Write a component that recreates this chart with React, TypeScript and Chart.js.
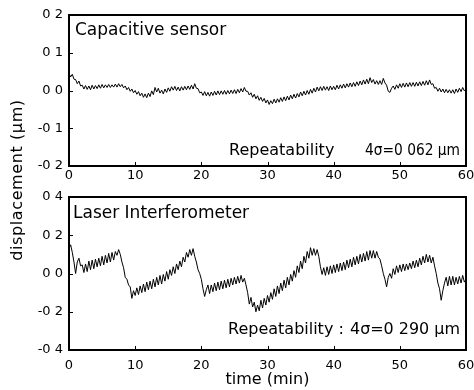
import React, { useEffect, useRef } from "react";
import { Chart, registerables } from "chart.js";

Chart.register(...registerables);

const sampleStepMin = 0.25;
const xTickValues = [0, 10, 20, 30, 40, 50, 60];
const capTickLabels = ["-0 2", "-0 1", "0 0", "0 1", "0 2"];
const laserTickLabels = ["-0 4", "-0 2", "0 0", "0 2", "0 4"];

// Capacitive sensor displacement (µm), one value every 0.25 min
const capacitiveValues = [
  0.045, 0.036, 0.043, 0.030,
  0.029, 0.018, 0.025, 0.012,
  0.014, 0.004, 0.013, 0.003,
  0.012, 0.002, 0.014, 0.004,
  0.013, 0.005, 0.015, 0.006,
  0.016, 0.007, 0.015, 0.008,
  0.016, 0.008, 0.015, 0.009,
  0.017, 0.009, 0.018, 0.010,
  0.016, 0.007, 0.012, 0.002,
  0.008, -0.002, 0.004, -0.006,
  0.000, -0.010, -0.003, -0.014,
  -0.007, -0.018, -0.009, -0.019,
  -0.007, -0.016, -0.001, -0.011,
  0.008, -0.004, 0.006, -0.007,
  0.001, -0.009, 0.004, -0.005,
  0.007, -0.002, 0.010, 0.001,
  0.011, 0.000, 0.009, -0.001,
  0.010, 0.001, 0.011, 0.002,
  0.012, 0.003, 0.014, 0.004,
  0.018, 0.006, 0.005, -0.006,
  -0.004, -0.013, -0.003, -0.014,
  -0.005, -0.015, -0.004, -0.013,
  -0.002, -0.012, -0.001, -0.011,
  -0.001, -0.010, 0.000, -0.010,
  0.000, -0.009, 0.001, -0.008,
  0.002, -0.008, 0.003, -0.006,
  0.005, -0.004, 0.008, -0.002,
  -0.002, -0.012, -0.006, -0.018,
  -0.010, -0.022, -0.014, -0.026,
  -0.018, -0.029, -0.021, -0.033,
  -0.025, -0.037, -0.027, -0.035,
  -0.023, -0.033, -0.022, -0.031,
  -0.019, -0.029, -0.017, -0.027,
  -0.015, -0.025, -0.012, -0.022,
  -0.010, -0.020, -0.008, -0.017,
  -0.004, -0.014, -0.002, -0.012,
  0.000, -0.010, 0.003, -0.007,
  0.006, -0.004, 0.009, -0.001,
  0.010, 0.000, 0.011, 0.001,
  0.010, 0.000, 0.012, 0.002,
  0.011, 0.002, 0.014, 0.004,
  0.015, 0.006, 0.017, 0.007,
  0.018, 0.009, 0.020, 0.010,
  0.021, 0.011, 0.023, 0.013,
  0.025, 0.015, 0.028, 0.017,
  0.030, 0.018, 0.034, 0.021,
  0.029, 0.017, 0.026, 0.016,
  0.026, 0.016, 0.032, 0.020,
  0.014, -0.002, -0.005, 0.006,
  0.012, 0.003, 0.015, 0.006,
  0.018, 0.008, 0.019, 0.009,
  0.020, 0.010, 0.021, 0.011,
  0.021, 0.011, 0.022, 0.012,
  0.023, 0.013, 0.024, 0.014,
  0.026, 0.015, 0.028, 0.016,
  0.018, 0.006, 0.008, -0.002,
  0.006, -0.004, 0.004, -0.006,
  0.003, -0.006, 0.002, -0.007,
  0.002, -0.008, 0.004, -0.005,
  0.006, -0.003, 0.008, -0.001,
  0.004,
];

// Laser interferometer displacement (µm), one value every 0.25 min
const laserValues = [
  0.13, 0.15, 0.11, 0.06,
  0.00, 0.06, 0.08, 0.04,
  0.045, 0.005, 0.05, 0.01,
  0.065, 0.02, 0.07, 0.025,
  0.075, 0.035, 0.08, 0.04,
  0.09, 0.045, 0.095, 0.055,
  0.105, 0.06, 0.11, 0.07,
  0.115, 0.095, 0.125, 0.10,
  0.06, 0.03, -0.02, -0.03,
  -0.06, -0.07, -0.13, -0.09,
  -0.115, -0.075, -0.11, -0.065,
  -0.10, -0.055, -0.095, -0.045,
  -0.085, -0.04, -0.08, -0.03,
  -0.07, -0.02, -0.06, -0.01,
  -0.055, -0.005, -0.04, 0.01,
  -0.03, 0.02, -0.01, 0.035,
  0.00, 0.05, 0.02, 0.065,
  0.035, 0.085, 0.06, 0.11,
  0.085, 0.125, 0.095, 0.13,
  0.09, 0.06, 0.02, 0.00,
  -0.03, -0.08, -0.12, -0.085,
  -0.06, -0.105, -0.06, -0.095,
  -0.05, -0.09, -0.045, -0.085,
  -0.04, -0.08, -0.035, -0.075,
  -0.03, -0.07, -0.025, -0.06,
  -0.02, -0.055, -0.015, -0.05,
  -0.01, -0.045, -0.025, -0.06,
  -0.10, -0.16, -0.125, -0.175,
  -0.15, -0.20, -0.165, -0.195,
  -0.14, -0.18, -0.13, -0.165,
  -0.115, -0.15, -0.10, -0.135,
  -0.08, -0.12, -0.065, -0.105,
  -0.05, -0.09, -0.035, -0.075,
  -0.02, -0.06, -0.005, -0.04,
  0.015, -0.02, 0.04, 0.005,
  0.065, 0.025, 0.09, 0.055,
  0.115, 0.08, 0.135, 0.095,
  0.13, 0.095, 0.125, 0.09,
  0.035, -0.005, 0.03, -0.01,
  0.035, -0.005, 0.04, 0.0,
  0.045, 0.005, 0.05, 0.01,
  0.055, 0.015, 0.06, 0.02,
  0.07, 0.03, 0.075, 0.035,
  0.085, 0.045, 0.09, 0.05,
  0.10, 0.06, 0.105, 0.065,
  0.115, 0.07, 0.12, 0.08,
  0.12, 0.08, 0.115, 0.085,
  0.075, 0.04, 0.0, -0.03,
  -0.07, -0.02, 0.0, -0.025,
  0.025, -0.005, 0.04, 0.005,
  0.045, 0.01, 0.05, 0.015,
  0.05, 0.02, 0.055, 0.025,
  0.065, 0.03, 0.07, 0.035,
  0.08, 0.045, 0.09, 0.055,
  0.10, 0.06, 0.095, 0.055,
  0.085, 0.04, 0.0, -0.05,
  -0.08, -0.14, -0.09, -0.05,
  -0.02, -0.065, -0.015, -0.06,
  -0.015, -0.06, -0.02, -0.055,
  -0.015, -0.05, -0.01, -0.045,
  -0.03,
];

const FONT = "'DejaVu Sans', 'Liberation Sans', Arial, sans-serif";

type TextItem = {
  text: string;
  x: number | "center";
  y: number;
  size: number;
  maxWidth?: number;
};

const framePlugin = {
  id: "frameAndText",
  afterDraw(chart: any, _args: any, opts: any) {
    const { ctx, chartArea: a, scales } = chart;
    ctx.save();
    ctx.strokeStyle = "#000";
    ctx.lineWidth = 2;
    ctx.strokeRect(a.left, a.top, a.right - a.left, a.bottom - a.top);
    ctx.lineWidth = 1;
    ctx.beginPath();
    scales.x.ticks.forEach((t: any) => {
      const px = Math.round(scales.x.getPixelForValue(t.value)) + 0.5;
      ctx.moveTo(px, a.bottom);
      ctx.lineTo(px, a.bottom - 4);
    });
    scales.y.ticks.forEach((t: any) => {
      const py = Math.round(scales.y.getPixelForValue(t.value)) + 0.5;
      ctx.moveTo(a.left, py);
      ctx.lineTo(a.left + 4, py);
    });
    ctx.stroke();
    ctx.fillStyle = "#000";
    ctx.textBaseline = "middle";
    (opts.texts || []).forEach((t: TextItem) => {
      ctx.font = `${t.size}px ${FONT}`;
      if (t.x === "center") {
        ctx.textAlign = "center";
        ctx.fillText(t.text, (a.left + a.right) / 2, t.y);
      } else {
        ctx.textAlign = "left";
        if (t.maxWidth) ctx.fillText(t.text, t.x, t.y, t.maxWidth);
        else ctx.fillText(t.text, t.x, t.y);
      }
    });
    ctx.restore();
  },
};

type PanelProps = {
  values: number[];
  yMin: number;
  yMax: number;
  yStep: number;
  yLabels: string[];
  width: number;
  height: number;
  padTop: number;
  xAxisHeight: number;
  xLabelPad: number;
  texts: TextItem[];
};

function Panel(p: PanelProps) {
  const ref = useRef<HTMLCanvasElement | null>(null);
  useEffect(() => {
    if (!ref.current) return;
    const points = p.values.map((v, i) => ({ x: i * sampleStepMin, y: v }));
    const chart = new Chart(ref.current, {
      type: "line",
      data: {
        datasets: [
          {
            data: points,
            borderColor: "#000",
            borderWidth: 1,
            pointRadius: 0,
            tension: 0,
            fill: false,
          },
        ],
      },
      options: {
        responsive: false,
        animation: false,
        events: [],
        layout: { padding: { left: 0, right: 8, top: p.padTop, bottom: 0 } },
        plugins: {
          legend: { display: false },
          tooltip: { enabled: false },
          frameAndText: { texts: p.texts },
        } as any,
        scales: {
          x: {
            type: "linear",
            min: 0,
            max: 60,
            afterBuildTicks: (s: any) => {
              s.ticks = xTickValues.map((v) => ({ value: v }));
            },
            ticks: {
              color: "#000",
              font: { family: FONT, size: 13 },
              padding: p.xLabelPad,
              maxRotation: 0,
              callback: (v: any) => String(v),
            },
            grid: { display: false, drawTicks: false },
            border: { display: false },
            afterFit: (s: any) => {
              s.height = p.xAxisHeight;
              s.paddingLeft = 0;
              s.paddingRight = 0;
            },
          },
          y: {
            type: "linear",
            min: p.yMin,
            max: p.yMax,
            ticks: {
              stepSize: p.yStep,
              color: "#000",
              font: { family: FONT, size: 13 },
              padding: 6,
              callback: (_v: any, i: number) => p.yLabels[i],
            },
            grid: { display: false, drawTicks: false },
            border: { display: false },
            afterFit: (s: any) => {
              s.width = 69;
              s.paddingTop = 0;
              s.paddingBottom = 0;
            },
          },
        },
      },
      plugins: [framePlugin as any],
    });
    return () => chart.destroy();
  }, []);
  return (
    <canvas
      ref={ref}
      width={p.width}
      height={p.height}
      style={{ display: "block", width: p.width, height: p.height }}
    />
  );
}

export default function App() {
  return (
    <div
      style={{
        position: "absolute",
        left: 0,
        top: 0,
        width: 474,
        height: 390,
        background: "#fff",
        overflow: "hidden",
      }}
    >
      <div style={{ position: "absolute", left: 0, top: 0 }}>
        <Panel
          values={capacitiveValues}
          yMin={-0.2}
          yMax={0.2}
          yStep={0.1}
          yLabels={capTickLabels}
          width={474}
          height={185}
          padTop={15}
          xAxisHeight={19}
          xLabelPad={2}
          texts={[
            { text: "Capacitive sensor", x: 75, y: 31, size: 17 },
            { text: "Repeatability", x: 229, y: 151, size: 16 },
            { text: "4σ=0 062 μm", x: 365, y: 151, size: 16, maxWidth: 95 },
          ]}
        />
      </div>
      <div style={{ position: "absolute", left: 0, top: 185 }}>
        <Panel
          values={laserValues}
          yMin={-0.4}
          yMax={0.4}
          yStep={0.2}
          yLabels={laserTickLabels}
          width={474}
          height={205}
          padTop={12}
          xAxisHeight={40}
          xLabelPad={8}
          texts={[
            { text: "Laser Interferometer", x: 73, y: 29, size: 17 },
            { text: "Repeatability :", x: 228, y: 145, size: 16 },
            { text: "4σ=0 290 μm", x: 350, y: 145, size: 16, maxWidth: 110 },
            { text: "time (min)", x: "center", y: 195, size: 16 },
          ]}
        />
      </div>
      <div
        style={{
          position: "absolute",
          left: 17 - 100,
          top: 180 - 10,
          width: 200,
          height: 20,
          lineHeight: "20px",
          textAlign: "center",
          transform: "rotate(-90deg)",
          fontFamily: FONT,
          fontSize: 16,
          letterSpacing: "0.6px",
          whiteSpace: "nowrap",
          color: "#000",
        }}
      >
        displacement (μm)
      </div>
    </div>
  );
}
